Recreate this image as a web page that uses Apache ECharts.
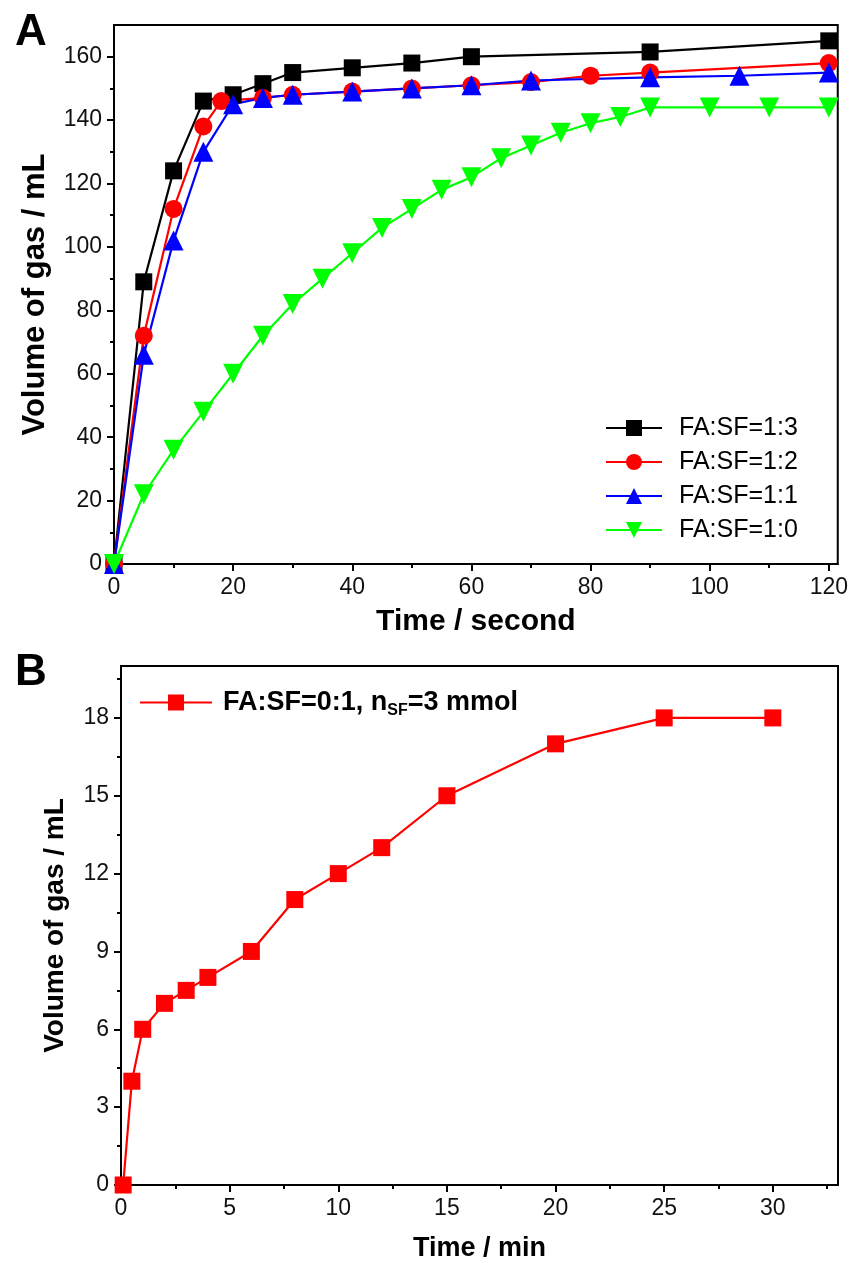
<!DOCTYPE html>
<html>
<head>
<meta charset="utf-8">
<script src="https://cdn.jsdelivr.net/npm/echarts@6/dist/echarts.min.js"></script>
<style>html,body{margin:0;padding:0;background:#fff}#c{width:851px;height:1263px}</style>
</head>
<body>
<div id="c"></div>
<script>
// ---------- Panel A data (Time / second vs Volume / mL) ----------
const A_NAMES = ['FA:SF=1:3', 'FA:SF=1:2', 'FA:SF=1:1', 'FA:SF=1:0'];
const A_BLACK_X = [0, 5, 10, 15, 20, 25, 30, 40, 50, 60, 90, 120];
const A_BLACK_Y = [0, 89, 124, 146, 148, 151.5, 155, 156.5, 158, 160, 161.5, 165];
const A_RED_X = [0, 5, 10, 15, 18, 25, 30, 40, 50, 60, 70, 80, 90, 120];
const A_RED_Y = [0, 72, 112, 138, 146, 147, 148, 149, 150, 151, 152, 154, 155, 158];
const A_BLUE_X = [0, 5, 10, 15, 20, 25, 30, 40, 50, 60, 70, 90, 105, 120];
const A_BLUE_Y = [0, 66, 102, 130, 145, 147, 148, 149, 150, 151, 152.5, 153.5, 154, 155];
const A_GREEN_X = [0, 5, 10, 15, 20, 25, 30, 35, 40, 45, 50, 55, 60, 65, 70, 75, 80, 85, 90, 100, 110, 120];
const A_GREEN_Y = [0, 22, 36, 48, 60, 72, 82, 90, 98, 106, 112, 118, 122, 128, 132, 136, 139, 141, 144, 144, 144, 144];
const A_X_TICKS = [0, 20, 40, 60, 80, 100, 120];
const A_X_MINOR = [10, 30, 50, 70, 90, 110];
const A_Y_TICKS = [0, 20, 40, 60, 80, 100, 120, 140, 160];
const A_Y_MINOR = [10, 30, 50, 70, 90, 110, 130, 150];

// ---------- Panel B data (Time / min vs Volume / mL) ----------
const B_NAME = 'FA:SF=0:1, nSF=3 mmol';
const B_X = [0.1, 0.5, 1, 2, 3, 4, 6, 8, 10, 12, 15, 20, 25, 30];
const B_Y = [0, 4, 6, 7, 7.5, 8, 9, 11, 12, 13, 15, 17, 18, 18];
const B_X_TICKS = [0, 5, 10, 15, 20, 25, 30];
const B_X_MINOR = [2.5, 7.5, 12.5, 17.5, 22.5, 27.5, 32.5];
const B_Y_TICKS = [0, 3, 6, 9, 12, 15, 18];
const B_Y_MINOR = [1.5, 4.5, 7.5, 10.5, 13.5, 16.5, 19.5];

const FONT = '"Liberation Sans", Arial, sans-serif';
const pairs = (xs, ys) => xs.map((x, i) => [x, ys[i]]);

function mainX(grid, min, max, ticks, name, fs, nfs, gap) {
  return {
    type: 'value', gridIndex: grid, position: 'bottom', min, max,
    name, nameLocation: 'middle', nameGap: gap,
    nameTextStyle: { fontFamily: FONT, fontWeight: 'bold', fontSize: nfs, color: '#000' },
    axisLine: { show: true, onZero: false, lineStyle: { color: '#000', width: 2 } },
    axisTick: { show: true, length: 7, lineStyle: { color: '#000', width: 2 }, customValues: ticks },
    axisLabel: { show: true, customValues: ticks, margin: 12, fontFamily: FONT, fontSize: fs, color: '#111' },
    splitLine: { show: false }
  };
}
function minorX(grid, min, max, ticks) {
  return {
    type: 'value', gridIndex: grid, position: 'bottom', offset: 0, min, max,
    axisLine: { show: false },
    axisTick: { show: true, length: 4, lineStyle: { color: '#000', width: 2 }, customValues: ticks },
    axisLabel: { show: false }, splitLine: { show: false }
  };
}
function mainY(grid, min, max, ticks, name, fs, nfs, gap) {
  return {
    type: 'value', gridIndex: grid, position: 'left', min, max,
    name, nameLocation: 'middle', nameGap: gap,
    nameTextStyle: { fontFamily: FONT, fontWeight: 'bold', fontSize: nfs, color: '#000' },
    axisLine: { show: true, onZero: false, lineStyle: { color: '#000', width: 2 } },
    axisTick: { show: true, length: 7, lineStyle: { color: '#000', width: 2 }, customValues: ticks },
    axisLabel: { show: true, customValues: ticks, margin: 12, fontFamily: FONT, fontSize: fs, color: '#111' },
    splitLine: { show: false }
  };
}
function minorY(grid, min, max, ticks) {
  return {
    type: 'value', gridIndex: grid, position: 'left', offset: 0, min, max,
    axisLine: { show: false },
    axisTick: { show: true, length: 4, lineStyle: { color: '#000', width: 2 }, customValues: ticks },
    axisLabel: { show: false }, splitLine: { show: false }
  };
}

const chart = echarts.init(document.getElementById('c'), null, { renderer: 'canvas' });
const lineSeries = (name, data, color, symbol, size, rotate) => ({
  type: 'line', name, data, xAxisIndex: 0, yAxisIndex: 0,
  symbol, symbolSize: size, symbolRotate: rotate || 0, showAllSymbol: true,
  lineStyle: { color, width: 2.2 }, itemStyle: { color }, animation: false, z: 3
});

chart.setOption({
  backgroundColor: '#fff',
  animation: false,
  title: [
    { text: 'A', left: 10, top: 6, textStyle: { fontFamily: FONT, fontWeight: 'bold', fontSize: 44, color: '#000' } },
    { text: 'B', left: 10, top: 646, textStyle: { fontFamily: FONT, fontWeight: 'bold', fontSize: 44, color: '#000' } }
  ],
  grid: [
    { left: 114, top: 25, width: 724, height: 539, show: true, borderColor: '#000', borderWidth: 2, backgroundColor: 'transparent' },
    { left: 121, top: 666, width: 717, height: 519, show: true, borderColor: '#000', borderWidth: 2, backgroundColor: 'transparent' }
  ],
  xAxis: [
    mainX(0, 0, 121.5, A_X_TICKS, 'Time / second', 23, 30, 43),
    minorX(0, 0, 121.5, A_X_MINOR),
    mainX(1, 0, 33, B_X_TICKS, 'Time / min', 23, 27, 50),
    minorX(1, 0, 33, B_X_MINOR)
  ],
  yAxis: [
    mainY(0, 0, 170, A_Y_TICKS, 'Volume of gas / mL', 23, 31, 63),
    minorY(0, 0, 170, A_Y_MINOR),
    mainY(1, 0, 20, B_Y_TICKS, 'Volume of gas / mL', 23, 28, 52),
    minorY(1, 0, 20, B_Y_MINOR)
  ],
  legend: [
    {
      data: A_NAMES, orient: 'vertical', left: 600, top: 409,
      itemWidth: 56, itemHeight: 20, itemGap: 6,
      textStyle: { fontFamily: FONT, fontSize: 25, color: '#000', lineHeight: 28, padding: [0, 0, 0, 12] }
    },
    {
      data: [B_NAME], left: 134, top: 684,
      itemWidth: 72, itemHeight: 20,
      formatter: () => '{b|FA:SF=0:1, n}{s|SF}{b|=3 mmol}',
      textStyle: {
        padding: [0, 0, 0, 6],
        rich: {
          b: { fontFamily: FONT, fontWeight: 'bold', fontSize: 27, color: '#000', lineHeight: 32 },
          s: { fontFamily: FONT, fontWeight: 'bold', fontSize: 16, color: '#000', lineHeight: 18, verticalAlign: 'bottom' }
        }
      }
    }
  ],
  series: [
    lineSeries(A_NAMES[0], pairs(A_BLACK_X, A_BLACK_Y), '#000000', 'rect', 17),
    lineSeries(A_NAMES[1], pairs(A_RED_X, A_RED_Y), '#ff0000', 'circle', 18),
    lineSeries(A_NAMES[2], pairs(A_BLUE_X, A_BLUE_Y), '#0000ff', 'triangle', 20),
    lineSeries(A_NAMES[3], pairs(A_GREEN_X, A_GREEN_Y), '#00ff00', 'triangle', 20, 180),
    Object.assign(lineSeries(B_NAME, pairs(B_X, B_Y), '#ff0000', 'rect', 17), { xAxisIndex: 2, yAxisIndex: 2 })
  ]
});
</script>
</body>
</html>
